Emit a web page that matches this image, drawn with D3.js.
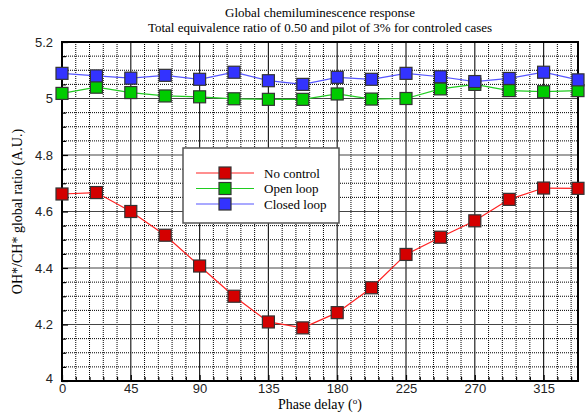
<!DOCTYPE html>
<html>
<head>
<meta charset="utf-8">
<script src="https://cdn.jsdelivr.net/npm/d3@7"></script>
<style>
  body { margin: 0; background: #fff; }
  svg { display: block; }
</style>
</head>
<body>
<div id="chart"></div>
<script>
const phase = [0, 22.5, 45, 67.5, 90, 112.5, 135, 157.5, 180, 202.5, 225, 247.5, 270, 292.5, 315, 337.5];
const noControl = [4.662, 4.667, 4.600, 4.516, 4.407, 4.300, 4.209, 4.188, 4.242, 4.330, 4.448, 4.509, 4.567, 4.643, 4.683, 4.682];
const openLoop = [5.018, 5.040, 5.021, 5.009, 5.006, 4.999, 4.997, 4.997, 5.016, 4.998, 5.000, 5.034, 5.050, 5.028, 5.024, 5.028];
const closedLoop = [5.089, 5.080, 5.072, 5.082, 5.068, 5.093, 5.063, 5.050, 5.075, 5.068, 5.089, 5.077, 5.060, 5.071, 5.093, 5.066];
const seriesNames = ['No control', 'Open loop', 'Closed loop'];
const xTicks = [0, 45, 90, 135, 180, 225, 270, 315];
const yTicks = [4, 4.2, 4.4, 4.6, 4.8, 5, 5.2];

const width = 585;
const height = 413;
const margin = { top: 42, right: 7, bottom: 32, left: 62 };

const series = [
  { name: seriesNames[0], values: noControl, line: '#ff2020', fill: '#d40000' },
  { name: seriesNames[1], values: openLoop, line: '#20cc20', fill: '#00cc00' },
  { name: seriesNames[2], values: closedLoop, line: '#5555ff', fill: '#3333ff' }
];

const svg = d3.select('#chart')
  .append('svg')
  .attr('width', width)
  .attr('height', height);

const x = d3.scaleLinear()
  .domain([0, 337.5])
  .range([margin.left, width - margin.right]);

const y = d3.scaleLinear()
  .domain([4, 5.2])
  .range([height - margin.bottom, margin.top]);

// grid: dotted minor lines, solid major lines
const minorX = d3.range(0, 337.5, 9).filter(d => d % 45 !== 0);
const minorY = d3.range(4, 5.2, 0.05).map(d => +d.toFixed(2)).filter(d => Math.round(d * 100) % 20 !== 0);

const grid = svg.append('g');
grid.selectAll('.mx')
  .data(minorX)
  .enter()
  .append('line')
  .attr('x1', d => x(d)).attr('x2', d => x(d))
  .attr('y1', y(4)).attr('y2', y(5.2))
  .attr('stroke', '#000')
  .attr('stroke-dasharray', '1,1')
  .attr('stroke-width', 1);
grid.selectAll('.my')
  .data(minorY)
  .enter()
  .append('line')
  .attr('x1', x(0)).attr('x2', x(337.5))
  .attr('y1', d => y(d)).attr('y2', d => y(d))
  .attr('stroke', '#000')
  .attr('stroke-dasharray', '1,1')
  .attr('stroke-width', 1);
grid.selectAll('.Mx')
  .data(xTicks.slice(1))
  .enter()
  .append('line')
  .attr('x1', d => x(d)).attr('x2', d => x(d))
  .attr('y1', y(4)).attr('y2', y(5.2))
  .attr('stroke', '#222')
  .attr('stroke-width', 1.2);
grid.selectAll('.My')
  .data(yTicks.slice(1, -1))
  .enter()
  .append('line')
  .attr('x1', x(0)).attr('x2', x(337.5))
  .attr('y1', d => y(d)).attr('y2', d => y(d))
  .attr('stroke', '#444')
  .attr('stroke-width', 1.2);

// axes with inward ticks
const xAxis = svg.append('g')
  .attr('transform', `translate(0,${y(4)})`)
  .call(d3.axisBottom(x).tickValues(xTicks).tickSize(-6).tickPadding(3).tickFormat(d3.format('d')));
svg.append('g')
  .attr('transform', `translate(0,${y(4)})`)
  .call(d3.axisBottom(x).tickValues(minorX).tickSize(-4).tickFormat(''));

const yAxis = svg.append('g')
  .attr('transform', `translate(${x(0)},0)`)
  .call(d3.axisLeft(y).tickValues(yTicks).tickSize(-6).tickPadding(9).tickFormat(d => d3.format('')(d)));
svg.append('g')
  .attr('transform', `translate(${x(0)},0)`)
  .call(d3.axisLeft(y).tickValues(minorY).tickSize(-4).tickFormat(''));

svg.selectAll('.domain').remove();
svg.selectAll('.tick line').attr('stroke', '#000').attr('stroke-width', 1.2);
svg.selectAll('.tick text')
  .style('font-family', 'Liberation Sans, Arial, sans-serif')
  .style('font-size', '13px')
  .attr('fill', '#222');
yAxis.selectAll('.tick text').filter(d => d === 4).attr('dy', '0.1em');

// frame
svg.append('rect')
  .attr('x', x(0)).attr('y', y(5.2))
  .attr('width', x(337.5) - x(0))
  .attr('height', y(4) - y(5.2))
  .attr('fill', 'none')
  .attr('stroke', '#000')
  .attr('stroke-width', 2);

// lines and markers
const line = d3.line()
  .x((d, i) => x(phase[i]))
  .y(d => y(d));

series.forEach(s => {
  svg.append('path')
    .datum(s.values)
    .attr('d', line)
    .attr('fill', 'none')
    .attr('stroke', s.line)
    .attr('stroke-width', 1.2);
});

const ms = 12;
series.forEach(s => {
  svg.selectAll(null)
    .data(s.values)
    .enter()
    .append('rect')
    .attr('x', (d, i) => x(phase[i]) - ms / 2)
    .attr('y', d => y(d) - ms / 2)
    .attr('width', ms)
    .attr('height', ms)
    .attr('fill', s.fill)
    .attr('stroke', '#333')
    .attr('stroke-width', 1.2);
});

// legend
const legend = svg.append('g').attr('transform', 'translate(183,148)');
legend.append('rect')
  .attr('width', 156)
  .attr('height', 75)
  .attr('fill', '#fff')
  .attr('stroke', '#555')
  .attr('stroke-width', 1.5);
series.forEach((s, i) => {
  const ly = 25 + i * 15.5;
  legend.append('line')
    .attr('x1', 13).attr('x2', 71)
    .attr('y1', ly).attr('y2', ly)
    .attr('stroke', s.line)
    .attr('stroke-width', 1.2);
  legend.append('rect')
    .attr('x', 42 - ms / 2).attr('y', ly - ms / 2)
    .attr('width', ms).attr('height', ms)
    .attr('fill', s.fill)
    .attr('stroke', '#333')
    .attr('stroke-width', 1.2);
  legend.append('text')
    .attr('x', 81).attr('y', ly + 4.5)
    .text(s.name)
    .style('font-family', 'Liberation Serif, Times New Roman, serif')
    .style('font-size', '13px');
});

// titles
const cx = (x(0) + x(337.5)) / 2;
svg.append('text')
  .attr('x', cx).attr('y', 17)
  .attr('text-anchor', 'middle')
  .style('font-family', 'Liberation Serif, Times New Roman, serif')
  .style('font-size', '13px')
  .text('Global chemiluminescence response');
svg.append('text')
  .attr('x', cx).attr('y', 32)
  .attr('text-anchor', 'middle')
  .style('font-family', 'Liberation Serif, Times New Roman, serif')
  .style('font-size', '13px')
  .text('Total equivalence ratio of 0.50 and pilot of 3% for controled cases');

const xl = svg.append('text')
  .attr('x', cx).attr('y', 409)
  .attr('text-anchor', 'middle')
  .style('font-family', 'Liberation Serif, Times New Roman, serif')
  .style('font-size', '14px');
xl.append('tspan').text('Phase delay (');
xl.append('tspan').attr('dy', -5).style('font-size', '9px').text('o');
xl.append('tspan').attr('dy', 5).text(')');

svg.append('text')
  .attr('transform', `translate(22,${(y(4) + y(5.2)) / 2}) rotate(-90)`)
  .attr('text-anchor', 'middle')
  .style('font-family', 'Liberation Serif, Times New Roman, serif')
  .style('font-size', '14px')
  .text('OH*/CH* global ratio (A.U.)');
</script>
</body>
</html>
